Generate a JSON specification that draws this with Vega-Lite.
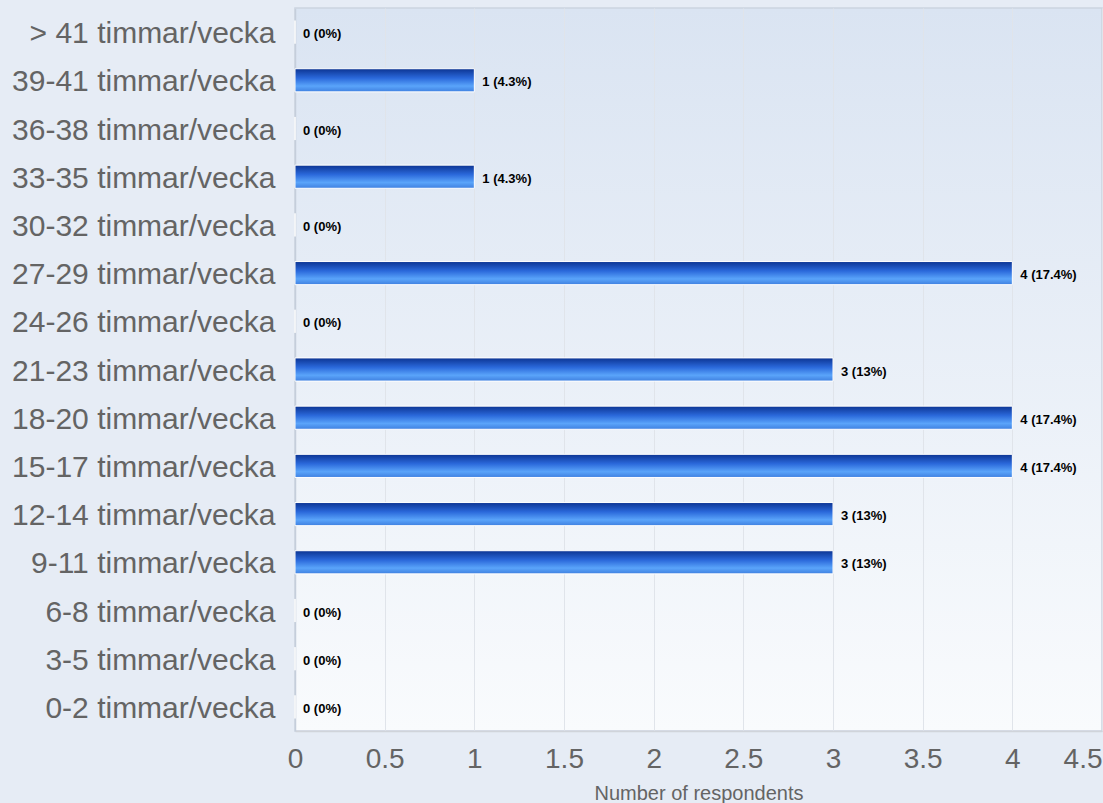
{
  "$schema": "https://vega.github.io/schema/vega-lite/v6.json",
  "width": 1103,
  "height": 803,
  "autosize": {"type": "fit", "contains": "padding"},
  "padding": {"left": 0, "top": 8, "right": 1, "bottom": 0},
  "background": "#e6ecf5",
  "config": {
    "font": "Liberation Sans",
    "view": {
      "stroke": "#cbd3df",
      "strokeWidth": 1.5,
      "fill": {
        "gradient": "linear",
        "x1": 0, "y1": 0, "x2": 0, "y2": 1,
        "stops": [
          {"offset": 0, "color": "#dae4f2"},
          {"offset": 1, "color": "#f9fbfd"}
        ]
      }
    }
  },
  "data": {
    "values": [
      {"cat": "> 41 timmar/vecka", "n": 0, "label": "0 (0%)"},
      {"cat": "39-41 timmar/vecka", "n": 1, "label": "1 (4.3%)"},
      {"cat": "36-38 timmar/vecka", "n": 0, "label": "0 (0%)"},
      {"cat": "33-35 timmar/vecka", "n": 1, "label": "1 (4.3%)"},
      {"cat": "30-32 timmar/vecka", "n": 0, "label": "0 (0%)"},
      {"cat": "27-29 timmar/vecka", "n": 4, "label": "4 (17.4%)"},
      {"cat": "24-26 timmar/vecka", "n": 0, "label": "0 (0%)"},
      {"cat": "21-23 timmar/vecka", "n": 3, "label": "3 (13%)"},
      {"cat": "18-20 timmar/vecka", "n": 4, "label": "4 (17.4%)"},
      {"cat": "15-17 timmar/vecka", "n": 4, "label": "4 (17.4%)"},
      {"cat": "12-14 timmar/vecka", "n": 3, "label": "3 (13%)"},
      {"cat": "9-11 timmar/vecka", "n": 3, "label": "3 (13%)"},
      {"cat": "6-8 timmar/vecka", "n": 0, "label": "0 (0%)"},
      {"cat": "3-5 timmar/vecka", "n": 0, "label": "0 (0%)"},
      {"cat": "0-2 timmar/vecka", "n": 0, "label": "0 (0%)"}
    ]
  },
  "encoding": {
    "y": {
      "field": "cat",
      "type": "nominal",
      "sort": null,
      "scale": {"paddingInner": 0.52, "paddingOuter": 0.26},
      "axis": {
        "title": null,
        "ticks": false,
        "domainColor": "#c5cedb",
        "domainWidth": 1.5,
        "labelFontSize": 30,
        "labelColor": "#646464",
        "labelPadding": 20,
        "labelLimit": 400,
        "labelOffset": 2,
        "minExtent": 295,
        "maxExtent": 295
      }
    },
    "x": {
      "field": "n",
      "type": "quantitative",
      "scale": {"domain": [0, 4.5], "nice": false},
      "axis": {
        "values": [0, 0.5, 1, 1.5, 2, 2.5, 3, 3.5, 4, 4.5],
        "format": "~g",
        "title": "Number of respondents",
        "titleFontSize": 20,
        "titleFontWeight": "normal",
        "titleColor": "#646464",
        "titlePadding": 6,
        "ticks": false,
        "domainColor": "#d0d4da",
        "domainWidth": 1.5,
        "gridColor": "#e0e4ea",
        "labelFontSize": 28,
        "labelColor": "#646464",
        "labelPadding": 14,
        "labelAlign": {"condition": {"test": "datum.value == 4.5", "value": "right"}, "value": "center"},
        "minExtent": 46,
        "maxExtent": 46
      }
    }
  },
  "layer": [
    {
      "mark": {
        "type": "bar",
        "stroke": "#ffffff",
        "strokeWidth": 1,
        "fill": {
          "gradient": "linear",
          "x1": 0, "y1": 0, "x2": 0, "y2": 1,
          "stops": [
            {"offset": 0, "color": "#0c3492"},
            {"offset": 0.4, "color": "#2a68da"},
            {"offset": 0.75, "color": "#5aa4fa"},
            {"offset": 1, "color": "#3f80e0"}
          ]
        }
      },
      "encoding": {}
    },
    {
      "mark": {
        "type": "text",
        "align": "left",
        "dx": 8,
        "dy": 2,
        "fontSize": 13,
        "fontWeight": "bold",
        "color": "#000000"
      },
      "encoding": {"text": {"field": "label"}}
    }
  ]
}
